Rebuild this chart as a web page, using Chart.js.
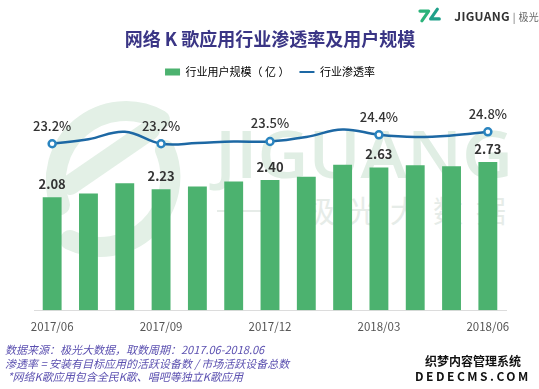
<!DOCTYPE html>
<html>
<head>
<meta charset="utf-8">
<script src="https://cdn.jsdelivr.net/npm/chart.js@4/dist/chart.umd.min.js"></script>
<style>
  body { margin: 0; background: #fff; font-family: "Noto Sans CJK SC", "Noto Sans", sans-serif; }
  #wrap { position: relative; width: 539px; height: 389px; overflow: hidden; }
  #chart { position: absolute; left: 0; top: 0; z-index: 2; }
  #wm { position: absolute; left: 0; top: 0; z-index: 1; }
  #logo { position: absolute; left: 418px; top: 6px; width: 121px; z-index: 3; display: flex; align-items: center; gap: 13px; white-space: nowrap; }
  #logo span { font-size: 12px; font-weight: bold; color: #333; letter-spacing: 0.3px; }
  #logo small { font-size: 10px; color: #666; font-weight: normal; }
  #notes { position: absolute; left: 5px; top: 343px; z-index: 3; font-size: 11px; line-height: 13.5px; color: #5b50b0; font-style: italic; }
  #dede { position: absolute; left: 415px; top: 353px; z-index: 3; font-size: 12px; line-height: 15px; font-weight: bold; color: #111; text-align: center; }
</style>
</head>
<body>
<div id="wrap">
  <svg id="wm" width="539" height="389">
    <g fill="none" stroke="#e3f0e6" stroke-width="20" stroke-linecap="round">
      <path d="M60 205 A70 70 0 0 1 160 120"/>
      <path d="M165 150 A70 70 0 0 1 70 240"/>
      <path d="M70 185 L150 130"/>
    </g>
    <text x="215" y="178" textLength="298" lengthAdjust="spacingAndGlyphs" font-family="'Open Sans', sans-serif" font-weight="600" font-size="66" fill="#e0eee4">JIGUANG</text>
    <line x1="217" y1="211" x2="272" y2="211" stroke="#e6ece8" stroke-width="2"/>
    <g font-family="'Noto Sans CJK SC', sans-serif" font-size="30" fill="#e6ece8" text-anchor="middle">
      <text x="320" y="222">极</text>
      <text x="363" y="222">光</text>
      <text x="405" y="222">大</text>
      <text x="448" y="222">数</text>
      <text x="491" y="222">据</text>
    </g>
  </svg>
  <div id="logo">
    <svg width="24" height="18" viewBox="0 0 24 18">
      <path d="M2 5 L11 5 L4 15" fill="none" stroke="#2bb37a" stroke-width="3.2" stroke-linecap="round" stroke-linejoin="round"/>
      <path d="M22 13 L13 13 L20 3" fill="none" stroke="#1fa08a" stroke-width="3.2" stroke-linecap="round" stroke-linejoin="round"/>
    </svg>
    <span>JIGUANG <small>| 极光</small></span>
  </div>
  <canvas id="chart" width="539" height="389"></canvas>
  <div id="notes">
    <div>数据来源：极光大数据，取数周期：2017.06-2018.06</div>
    <div>渗透率 = 安装有目标应用的活跃设备数 / 市场活跃设备总数</div>
    <div>&nbsp;*网络K歌应用包含全民K歌、唱吧等独立K歌应用</div>
  </div>
  <div id="dede">织梦内容管理系统<br><span style="letter-spacing:2.5px;">DEDECMS.COM</span></div>
</div>
<script>
const months = ['2017/06', '2017/07', '2017/08', '2017/09', '2017/10', '2017/11', '2017/12',
                '2018/01', '2018/02', '2018/03', '2018/04', '2018/05', '2018/06'];
const users = [2.08, 2.15, 2.34, 2.23, 2.28, 2.37, 2.40, 2.46, 2.68, 2.63, 2.67, 2.65, 2.73];
const penetration = [23.2, 23.8, 24.8, 23.2, 23.3, 23.5, 23.5, 24.1, 25.1, 24.4, 24.1, 24.3, 24.8];
const labelEvery = 3;

const green = '#4cb26f';
const blue = '#1d68a4';
const cjk = '"Noto Sans CJK SC", sans-serif';

// draws the value labels on every third month
const valueLabels = {
    id: 'valueLabels',
    afterDatasetsDraw(chart) {
        const ctx = chart.ctx;
        ctx.save();
        ctx.textAlign = 'center';
        ctx.textBaseline = 'middle';
        ctx.fillStyle = '#333';
        const barMeta = chart.getDatasetMeta(0);
        const lineMeta = chart.getDatasetMeta(1);
        ctx.font = '600 13px ' + cjk;
        barMeta.data.forEach((bar, i) => {
            if (i % labelEvery !== 0) return;
            ctx.fillText(users[i].toFixed(2), bar.x, bar.y - 13);
        });
        ctx.font = '500 13px ' + cjk;
        lineMeta.data.forEach((pt, i) => {
            if (i % labelEvery !== 0) return;
            ctx.fillText(penetration[i].toFixed(1) + '%', pt.x, pt.y - 18);
        });
        ctx.restore();
    }
};

new Chart(document.getElementById('chart').getContext('2d'), {
    type: 'bar',
    data: {
        labels: months,
        datasets: [
            {
                label: '行业用户规模（亿）',
                data: users,
                backgroundColor: green,
                yAxisID: 'y',
                categoryPercentage: 1,
                barPercentage: 0.52,
                order: 1
            },
            {
                type: 'line',
                label: '行业渗透率',
                data: penetration,
                borderColor: blue,
                borderWidth: 2.5,
                tension: 0.4,
                pointRadius: c => c.dataIndex % labelEvery === 0 ? 3.5 : 0,
                pointHoverRadius: 0,
                pointBackgroundColor: '#fff',
                pointBorderColor: '#2a84bf',
                pointBorderWidth: 2.5,
                yAxisID: 'y2',
                order: 0
            }
        ]
    },
    options: {
        responsive: false,
        animation: false,
        layout: { padding: { left: 34, right: 33, top: 28, bottom: 53 } },
        plugins: {
            title: {
                display: true,
                text: '网络 K 歌应用行业渗透率及用户规模',
                color: '#3a3585',
                font: { size: 18, weight: 'bold', family: cjk },
                padding: { top: 0, bottom: 7 }
            },
            legend: {
                display: true,
                labels: {
                    usePointStyle: true,
                    pointStyleWidth: 15,
                    boxHeight: 7,
                    color: '#444',
                    padding: 10,
                    font: { size: 11, family: cjk },
                    generateLabels: () => [
                        { text: '行业用户规模（ 亿 ）', fillStyle: green, strokeStyle: green, lineWidth: 0, pointStyle: 'rect', datasetIndex: 0 },
                        { text: '行业渗透率', fillStyle: blue, strokeStyle: blue, lineWidth: 2, pointStyle: 'line', datasetIndex: 1 }
                    ]
                }
            },
            tooltip: { enabled: false }
        },
        scales: {
            x: {
                grid: { display: false },
                border: { display: true, color: '#dcdcdc', width: 1 },
                ticks: {
                    autoSkip: false,
                    maxRotation: 0,
                    padding: 2,
                    color: '#555',
                    font: { size: 11.5, family: cjk },
                    callback: (v, i) => i % labelEvery === 0 ? months[i] : ''
                }
            },
            y: { display: false, min: 0, max: 4.1 },
            y2: { display: false, position: 'right', min: 0.97, max: 30.7 }
        }
    },
    plugins: [valueLabels]
});
</script>
</body>
</html>
